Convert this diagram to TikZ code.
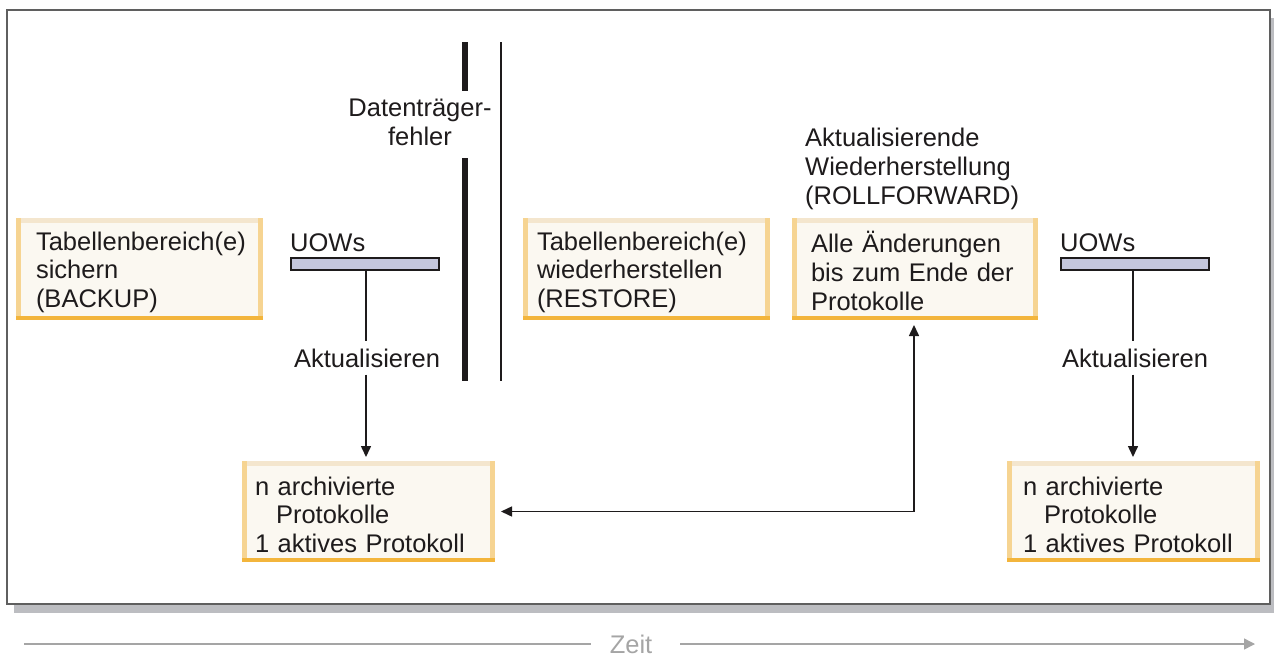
\documentclass[tikz,border=0pt]{standalone}
\usepackage{fontspec}
\setmainfont{Liberation Sans}
\usetikzlibrary{arrows.meta,calc}
\definecolor{ink}{RGB}{30,27,28}
\definecolor{cream}{RGB}{251,248,241}
\definecolor{topc}{RGB}{244,230,206}
\definecolor{sidec}{RGB}{246,212,146}
\definecolor{botc}{RGB}{243,181,60}
\definecolor{uowc}{RGB}{197,199,221}
\definecolor{shadowc}{RGB}{188,189,193}
\definecolor{framec}{RGB}{95,95,95}
\definecolor{timec}{RGB}{165,165,165}
\newcommand\bevelframe[1]{%
  \draw[line width=5pt, draw=topc] ([shift={(0,2.5)}]#1.north west) -- ([shift={(0,2.5)}]#1.north east);
  \draw[line width=5pt, draw=sidec] ([shift={(2.5,0)}]#1.north west) -- ([shift={(2.5,0)}]#1.south west);
  \draw[line width=5pt, draw=sidec] ([shift={(-2.5,0)}]#1.north east) -- ([shift={(-2.5,0)}]#1.south east);
  \draw[line width=4.5pt, draw=botc] ([shift={(0,-2.25)}]#1.south west) -- ([shift={(0,-2.25)}]#1.south east);
}
\begin{document}
\begin{tikzpicture}[x=1pt,y=-1pt,
  font=\fontsize{25.5}{28.8}\selectfont, text=ink,
  bx/.style={fill=cream, draw=none, outer sep=0pt, inner ysep=0pt, align=left, anchor=center,
    execute at begin node={\rule{0pt}{25pt}}},
  uowbar/.style={fill=uowc, draw=ink, line width=1.5pt, inner sep=0pt, minimum height=12pt, minimum width=148pt},
  lbl/.style={inner sep=0pt},
  conn/.style={draw=ink, line width=1.5pt},
  tipend/.style={-{Triangle[length=11pt,width=10pt]}},
  bar/.style={draw=ink, line width=6pt},
  timeline/.style={draw=timec, line width=1.5pt}
]
\useasboundingbox (0,0) rectangle (1274,656);
% frame with shadow
\fill[shadowc] (14,18) rectangle (1274,613);
\draw[framec, fill=white, line width=1.5pt] (7,10) rectangle (1270,604);

% boxes
\node[bx, minimum width=247pt, minimum height=102pt, inner xsep=20pt, text width=207pt] (b1) at (139.5,269)
  {Tabellenbereich(e)\\sichern\\(BACKUP)};
\bevelframe{b1}
\node[bx, minimum width=253pt, minimum height=101pt, inner xsep=13pt, text width=227pt] (b2) at (368.5,511.5)
  {n archivierte\\\hspace*{21pt}Protokolle\\1 aktives Protokoll};
\bevelframe{b2}
\node[bx, minimum width=247pt, minimum height=102pt, inner xsep=14pt, text width=219pt] (b3) at (646.5,269)
  {Tabellenbereich(e)\\wiederherstellen\\(RESTORE)};
\bevelframe{b3}
\node[bx, minimum width=246pt, minimum height=102pt, inner xsep=19pt, text width=208pt] (b4) at (915,269)
  {Alle Änderungen\\bis zum Ende der\\Protokolle};
\bevelframe{b4}
\node[bx, minimum width=253pt, minimum height=101pt, inner xsep=16pt, text width=221pt] (b5) at (1133.5,511.5)
  {n archivierte\\\hspace*{21pt}Protokolle\\1 aktives Protokoll};
\bevelframe{b5}

% labels
\node[lbl, anchor=west] (uowl1) at (290,243) {UOWs};
\node[lbl, anchor=west] (uowl2) at (1060,243) {UOWs};
\node[uowbar] (u1) at (365,264) {};
\node[uowbar] (u2) at (1135,264) {};
\node[inner sep=7pt] (a1) at (367,358) {Aktualisieren};
\node[inner sep=7pt] (a2) at (1135,358) {Aktualisieren};
\node[lbl, align=center] (df) at (420,122.5) {Datenträger-\\fehler};
\node[lbl, anchor=west, align=left] (rf) at (805,169) {Aktualisierende\\Wiederherstellung\\(ROLLFORWARD)};

% failure bars
\draw[bar] (465,42) -- (465,91);
\draw[bar] (465,158) -- (465,381);
\draw[conn] (501,42) -- (501,381);

% connectors
\draw[conn] ([xshift=1pt]u1.south) -- ([xshift=1pt]u1.south |- a1.north);
\draw[conn, tipend, shorten >=4pt] ([xshift=1pt]u1.south |- a1.south) -- ([xshift=1pt]u1.south |- b2.north);
\draw[conn] ([xshift=-2pt]u2.south) -- ([xshift=-2pt]u2.south |- a2.north);
\draw[conn, tipend, shorten >=4pt] ([xshift=-2pt]u2.south |- a2.south) -- ([xshift=-2pt]u2.south |- b5.north);
\draw[conn, {Triangle[length=11pt,width=10pt]}-{Triangle[length=11pt,width=10pt]}, shorten <=6pt, shorten >=5pt]
  (b2.east) -| ([xshift=-1pt]b4.south);

% time axis
\node[lbl, text=timec] (zeit) at (631,644) {Zeit};
\coordinate (t0) at (24,644);
\coordinate (t1) at (1255,644);
\draw[timeline] (t0) -- ([xshift=-19pt]zeit.west);
\draw[timeline, -{Triangle[length=11pt,width=11pt]}] ([xshift=28pt]zeit.east) -- (t1);
\end{tikzpicture}
\end{document}
